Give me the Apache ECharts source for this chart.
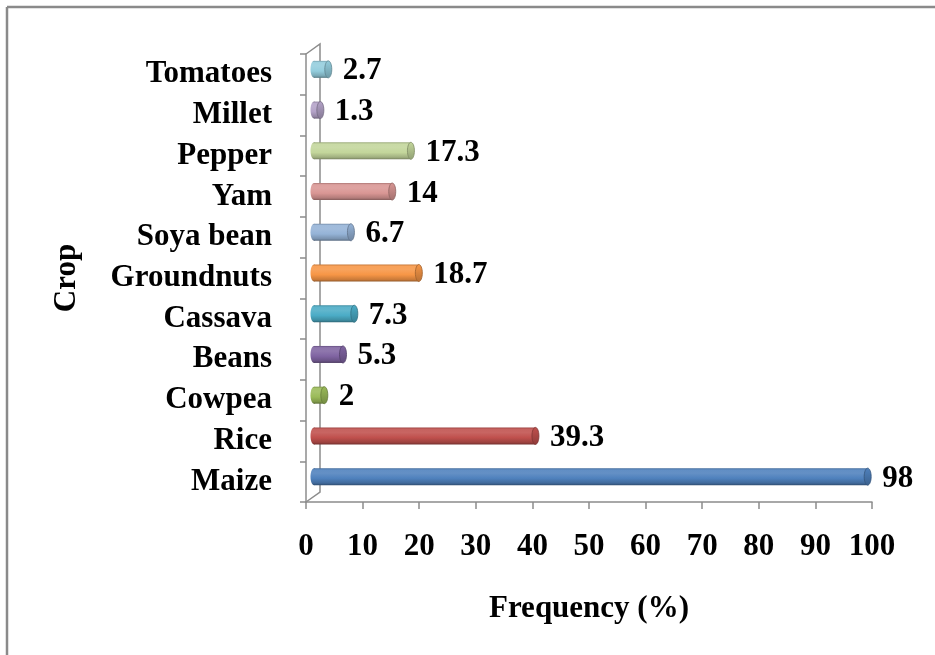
<!DOCTYPE html>
<html>
<head>
<meta charset="utf-8">
<script src="https://cdn.jsdelivr.net/npm/echarts@6/dist/echarts.min.js"></script>
<style>
html,body{margin:0;padding:0;background:#fff;}
#main{width:935px;height:655px;}
</style>
</head>
<body>
<div id="main"></div>
<script>
const categories = ['Maize','Rice','Cowpea','Beans','Cassava','Groundnuts','Soya bean','Yam','Pepper','Millet','Tomatoes'];
const values = [98, 39.3, 2, 5.3, 7.3, 18.7, 6.7, 14, 17.3, 1.3, 2.7];
const xTicks = [0,10,20,30,40,50,60,70,80,90,100];
const palette = ['#4F81BD','#C0504D','#9BBB59','#8064A2','#4BACC6','#F79646','#95B3D7','#D99694','#C3D69B','#B3A2C7','#93CDDD'];

const FONT = "'Liberation Serif','Times New Roman',serif";
const FS = 31;
const G = {left:306, right:63, top:54, bottom:153};
const DEPTH = 14, DEPTHY = 10;
const chart = echarts.init(document.getElementById('main'));

function shade(hex, f){
  const n = parseInt(hex.slice(1),16);
  let r=(n>>16)&255,g=(n>>8)&255,b=n&255;
  if(f>=0){ r=r+(255-r)*f; g=g+(255-g)*f; b=b+(255-b)*f; }
  else { r=r*(1+f); g=g*(1+f); b=b*(1+f); }
  return 'rgb('+Math.round(r)+','+Math.round(g)+','+Math.round(b)+')';
}

const W = 935, H = 655;
const axisColor = '#8c8c8c';

chart.setOption({
  animation:false,
  grid:{left:G.left, right:G.right, top:G.top, bottom:G.bottom, containLabel:false},
  xAxis:{
    type:'value', min:0, max:100, interval:10,
    name:'Frequency (%)', nameLocation:'middle', nameGap:91,
    nameTextStyle:{fontFamily:FONT, fontWeight:'bold', fontSize:FS, color:'#000'},
    axisLine:{show:true, lineStyle:{color:axisColor, width:1.5}},
    axisTick:{show:true, length:7, lineStyle:{color:axisColor, width:1.5}},
    splitLine:{show:false},
    axisLabel:{fontFamily:FONT, fontWeight:'bold', fontSize:FS, color:'#000', margin:29,
      formatter:function(v){return xTicks.indexOf(v)>=0? String(v):'';}}
  },
  yAxis:{
    type:'category', data:categories,
    name:'Crop', nameLocation:'middle', nameGap:224, nameRotate:90,
    nameTextStyle:{fontFamily:FONT, fontWeight:'bold', fontSize:FS, color:'#000'},
    axisLine:{show:true, lineStyle:{color:axisColor, width:1.5}},
    axisTick:{show:true, length:6, lineStyle:{color:axisColor, width:1.5}},
    axisLabel:{fontFamily:FONT, fontWeight:'bold', fontSize:FS, color:'#000', margin:34}
  },
  graphic:[
    {type:'line', shape:{x1:7,y1:7,x2:7,y2:H}, style:{stroke:'#8a8a8a', lineWidth:2.5}},
    {type:'line', shape:{x1:7,y1:7,x2:W,y2:7}, style:{stroke:'#8a8a8a', lineWidth:2.5}},
    {type:'polyline', shape:{points:[
      [G.left, G.top],[G.left+DEPTH, G.top-DEPTHY],[G.left+DEPTH, H-G.bottom-DEPTHY],[G.left, H-G.bottom]
    ]}, style:{stroke:axisColor, lineWidth:1.5, fill:null}}
  ],
  series:[{
    type:'custom',
    data: values.map(function(v,i){return [v,i];}),
    encode:{x:0, y:1},
    renderItem:function(params, api){
      const v = api.value(0), i = api.value(1);
      const s = api.coord([0,i]);
      const e = api.coord([v,i]);
      const dx = DEPTH/2, dy = -DEPTHY/2;
      const h = 17, rx = 3.5;
      const cy = s[1] + dy;
      const xa = s[0] + dx + 1, xb = e[0] + dx;
      const c = palette[i % palette.length];
      const grad = new echarts.graphic.LinearGradient(0,0,0,1,[
        {offset:0, color:shade(c,-0.2)},
        {offset:0.1, color:shade(c,0.1)},
        {offset:0.3, color:shade(c,0.12)},
        {offset:0.6, color:c},
        {offset:0.88, color:shade(c,-0.18)},
        {offset:1, color:shade(c,-0.4)}
      ]);
      const capGrad = new echarts.graphic.LinearGradient(0,0,0,1,[
        {offset:0, color:shade(c,0.0)},
        {offset:1, color:shade(c,-0.25)}
      ]);
      const children = [
        {type:'ellipse', shape:{cx:xa, cy:cy, rx:rx, ry:h/2}, style:{fill:grad}},
        {type:'rect', shape:{x:xa, y:cy-h/2, width:Math.max(xb-xa,0.5), height:h}, style:{fill:grad}},
        {type:'ellipse', shape:{cx:xb, cy:cy, rx:rx, ry:h/2}, style:{fill:capGrad, stroke:shade(c,-0.35), lineWidth:0.8}},
        {type:'text', style:{text:String(v), x:xb+rx+11, y:cy+2, fill:'#000',
          font:'bold '+FS+'px '+FONT, verticalAlign:'middle', align:'left'}}
      ];
      return {type:'group', children:children};
    }
  }]
});
</script>
</body>
</html>
